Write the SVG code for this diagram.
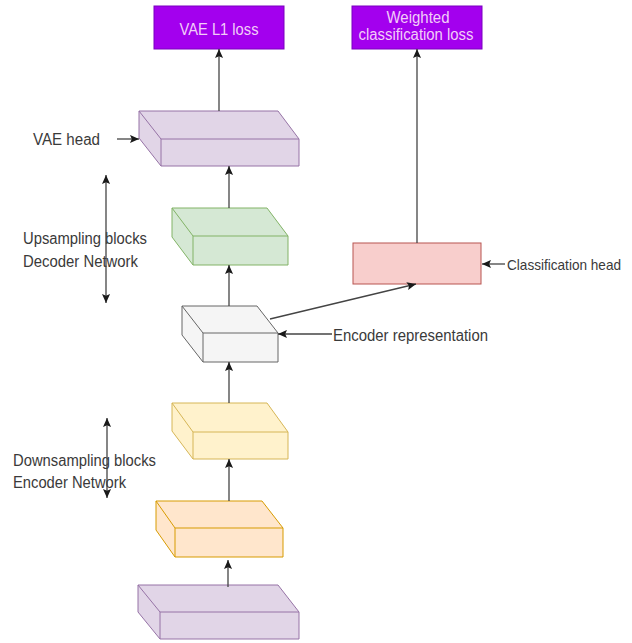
<svg xmlns="http://www.w3.org/2000/svg" width="632" height="643" viewBox="0 0 632 643">
<defs>
<marker id="ah" viewBox="0 0 10 10" refX="10" refY="5" markerWidth="9" markerHeight="9" markerUnits="userSpaceOnUse" orient="auto-start-reverse">
<path d="M0,0.5 L10,5 L0,9.5 L2,5 Z" fill="#1a1a1a"/>
</marker>
<style>
.lbl{font-family:"Liberation Sans",Arial,sans-serif;font-size:16px;fill:#3a3a3a}
.loss{font-family:"Liberation Sans",Arial,sans-serif;font-size:16px;fill:#f2cdf8;text-anchor:middle}
.lossbox{fill:#a300ee;stroke:#7a00c0;stroke-width:1}
.edge{stroke:#444;stroke-width:1.3;fill:none;marker-end:url(#ah)}
.dbl{stroke:#444;stroke-width:1.3;fill:none;marker-end:url(#ah);marker-start:url(#ah)}
.cube{stroke-width:1}
.purple{fill:#e1d5e7;stroke:#9673a6}
.green{fill:#d5e8d4;stroke:#82b366}
.gray{fill:#f5f5f5;stroke:#666666}
.yellow{fill:#fff2cc;stroke:#d6b656}
.orange{fill:#ffe6cc;stroke:#d79b00}
.red{fill:#f8cecc;stroke:#b85450}
.inner{fill:none}
</style>
</defs>
<rect width="632" height="643" fill="#ffffff"/>

<g id="vae-l1-loss">
<rect class="lossbox" x="154" y="6" width="130" height="43"/>
<text class="loss" x="219" y="35" textLength="79" lengthAdjust="spacingAndGlyphs">VAE L1 loss</text>
</g>

<g id="weighted-loss">
<rect class="lossbox" x="352" y="6" width="130" height="43"/>
<text class="loss" x="418" y="22.5" textLength="63" lengthAdjust="spacingAndGlyphs">Weighted</text>
<text class="loss" x="416" y="40" textLength="115" lengthAdjust="spacingAndGlyphs">classification loss</text>
</g>

<g id="vae-head" class="cube purple">
<path d="M139,111 L278,111 L299,139 L299,166 L161,166 L139,138 Z"/>
<path class="inner" d="M139,111 L161,139 L299,139 M161,139 L161,166"/>
</g>

<g id="upsampling-block" class="cube green">
<path d="M172,208 L267,208 L288,236 L288,265 L193,265 L172,237 Z"/>
<path class="inner" d="M172,208 L193,236 L288,236 M193,236 L193,265"/>
</g>

<g id="encoder-representation" class="cube gray">
<path d="M182,306 L257,306 L278,333 L278,362 L203,362 L182,335 Z"/>
<path class="inner" d="M182,306 L203,333 L278,333 M203,333 L203,362"/>
</g>

<g id="downsampling-block-2" class="cube yellow">
<path d="M172,403 L267,403 L288,432 L288,459 L193,459 L172,431 Z"/>
<path class="inner" d="M172,403 L193,432 L288,432 M193,432 L193,459"/>
</g>

<g id="downsampling-block-1" class="cube orange">
<path d="M156,501 L262,501 L283,528 L283,557 L175,557 L156,530 Z"/>
<path class="inner" d="M156,501 L175,528 L283,528 M175,528 L175,557"/>
</g>

<g id="input" class="cube purple">
<path d="M138,585 L278,585 L299,612 L299,639 L160,639 L138,612 Z"/>
<path class="inner" d="M138,585 L160,612 L299,612 M160,612 L160,639"/>
</g>

<g id="classification-head">
<rect class="red" x="353" y="243" width="128" height="41"/>
</g>

<g id="labels">
<text class="lbl" x="33" y="145" textLength="67" lengthAdjust="spacingAndGlyphs">VAE head</text>
<text class="lbl" x="23" y="244" textLength="124" lengthAdjust="spacingAndGlyphs">Upsampling blocks</text>
<text class="lbl" x="23" y="266.5" textLength="115" lengthAdjust="spacingAndGlyphs">Decoder Network</text>
<text class="lbl" x="13" y="465.5" textLength="143" lengthAdjust="spacingAndGlyphs">Downsampling blocks</text>
<text class="lbl" x="13" y="488" textLength="113" lengthAdjust="spacingAndGlyphs">Encoder Network</text>
<text class="lbl" x="507" y="270" style="font-size:14.5px" textLength="114" lengthAdjust="spacingAndGlyphs">Classification head</text>
<text class="lbl" x="333" y="341" textLength="155" lengthAdjust="spacingAndGlyphs">Encoder representation</text>
</g>

<g id="connectors">
<path class="edge" d="M219,111 L219,49"/>
<path class="edge" d="M229,208 L229,166"/>
<path class="edge" d="M229,306 L229,265"/>
<path class="edge" d="M229,403 L229,362"/>
<path class="edge" d="M229,501 L229,459"/>
<path class="edge" d="M228,587 L228,560"/>
<path class="edge" d="M270,319 L416,284"/>
<path class="edge" d="M417,243 L417,49"/>
<path class="edge" d="M117,139 L139,139"/>
<path class="edge" d="M505,264 L482,264"/>
<path class="edge" d="M332,334 L278,334"/>
<path class="dbl" d="M106,175 L106,303"/>
<path class="dbl" d="M107,418 L107,498"/>
</g>
</svg>
